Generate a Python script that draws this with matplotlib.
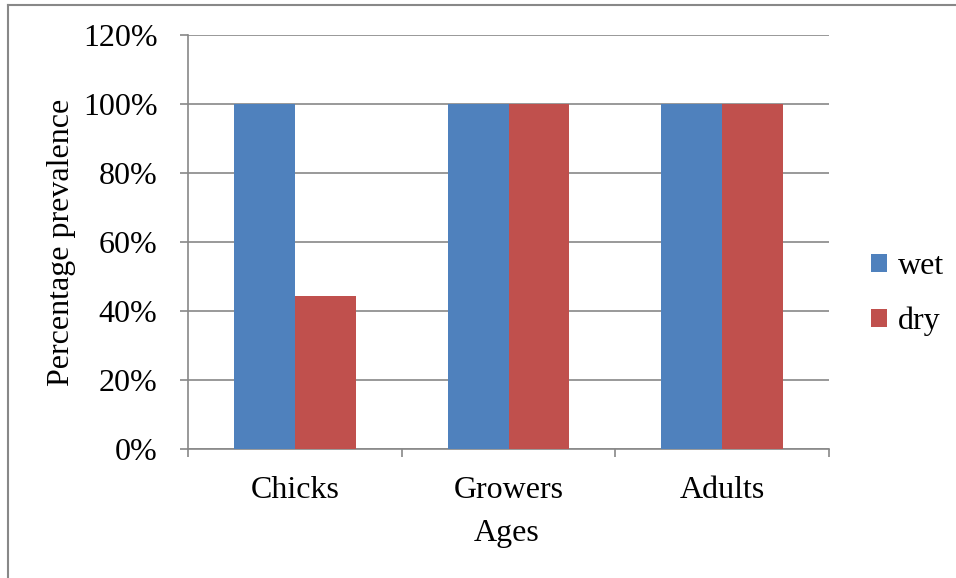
import matplotlib.pyplot as plt
import numpy as np
from matplotlib.lines import Line2D
from matplotlib.ticker import PercentFormatter

categories = ["Chicks", "Growers", "Adults"]
wet = [100, 100, 100]
dry = [44.4, 100, 100]
series_names = ["wet", "dry"]
y_ticks = [0, 20, 40, 60, 80, 100, 120]

blue = "#4F81BD"
red = "#C0504D"
grid_c = "#888888"
FS = 23

plt.rcParams['font.family'] = ['Liberation Serif', 'DejaVu Serif']

W, H = 956, 578
fig = plt.figure(figsize=(W / 100, H / 100), dpi=100)
L, R, T, B = 188, 829, 35, 449
ax = fig.add_axes([L / W, 1 - B / H, (R - L) / W, (B - T) / H])

x = np.arange(len(categories))
w = 0.285
ax.bar(x - w / 2, wet, w, color=blue, label=series_names[0], zorder=3)
ax.bar(x + w / 2, dry, w, color=red, label=series_names[1], zorder=3)

ax.set_xlim(-0.5, len(categories) - 0.5)
ax.set_ylim(0, 120)
ax.set_yticks(y_ticks)
ax.yaxis.set_major_formatter(PercentFormatter(decimals=0))
ax.tick_params(axis='y', length=6, width=1.2, color=grid_c, labelsize=FS, pad=16)
ax.grid(axis='y', color=grid_c, linewidth=1.2, zorder=0)

# category separators as tick marks on x-axis
ax.set_xticks(np.arange(-0.5, len(categories), 1.0))
ax.set_xticklabels([])
ax.tick_params(axis='x', length=6, width=1.2, color=grid_c)
for i, c in enumerate(categories):
    ax.text(i, (B - 490) / (B - T), c, transform=ax.get_xaxis_transform(),
            ha='center', va='center', fontsize=FS)

for s in ['top', 'right']:
    ax.spines[s].set_visible(False)
for s in ['left', 'bottom']:
    ax.spines[s].set_color(grid_c)
    ax.spines[s].set_linewidth(1.2)

ax.set_xlabel("Ages", fontsize=FS, va='center')
ax.xaxis.set_label_coords(((507 - L) / (R - L)), (B - 534) / (B - T))
ax.set_ylabel("Percentage prevalence", fontsize=FS, va='center')
ax.yaxis.set_label_coords((62 - L) / (R - L), (B - 242) / (B - T))

leg = ax.legend(loc='center left', bbox_to_anchor=((871 - L) / (R - L), (B - 294) / (B - T)),
                frameon=False, fontsize=FS, handlelength=0.5, handleheight=0.5,
                handletextpad=0.35, labelspacing=0.8, borderpad=0, borderaxespad=0)

# outer frame (left and top edges)
fig.add_artist(Line2D([8 / W, 8 / W], [0, 1 - 5 / H], transform=fig.transFigure,
                      color=grid_c, linewidth=1.5))
fig.add_artist(Line2D([8 / W, 1], [1 - 5 / H, 1 - 5 / H], transform=fig.transFigure,
                      color=grid_c, linewidth=1.5))

fig.savefig("out.png", dpi=100, facecolor='white')
